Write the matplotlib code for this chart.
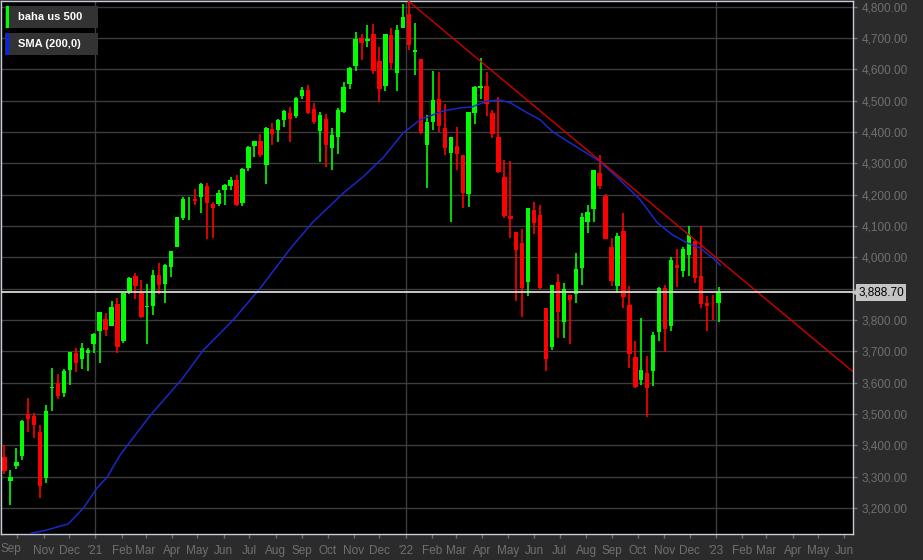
import matplotlib
matplotlib.use("Agg")
import matplotlib.pyplot as plt
import matplotlib.dates as mdates
import matplotlib.ticker as mticker
import pandas as pd
from matplotlib.patches import Rectangle

plt.rcParams['font.family'] = ['Liberation Sans', 'DejaVu Sans']

# weekly candles (week starting monday)
week_start = pd.date_range('2020-09-14', '2023-01-02', freq='7D')
opens = [3364, 3285, 3335, 3367, 3500, 3493, 3441, 3296, 3583, 3600, 3566, 3641, 3694, 3675, 3694, 3723,
         3764, 3803, 3781, 3851, 3732, 3892, 3939, 3886, 3842, 3844, 3942, 3916, 3969, 4034, 4124, 4179, 4185,
         4192, 4228, 4170, 4170, 4216, 4229, 4248, 4173, 4284, 4356, 4372, 4296, 4410, 4407, 4437, 4461, 4450,
         4514, 4535, 4474, 4402, 4442, 4348, 4385, 4463, 4553, 4610, 4701, 4689, 4712, 4628, 4548, 4710, 4587, 4733,
         4778, 4655, 4632, 4357, 4432, 4505, 4413, 4332, 4354, 4327, 4202, 4462, 4541, 4547, 4462, 4385, 4255,
         4131, 4081, 4046, 3920, 4151, 4134, 3838, 3715, 3920, 3792, 3880, 3883, 3965, 4113, 4155, 4269, 4195,
         4034, 3910, 4083, 3849, 3683, 3610, 3630, 3638, 3762, 3901, 3780, 3977, 3956, 4006, 4053, 3939, 3853, 3843,
         3853]
highs = [3402, 3320, 3393, 3482, 3550, 3502, 3466, 3529, 3646, 3628, 3645, 3699, 3712, 3726, 3711, 3760,
         3826, 3823, 3861, 3870, 3887, 3937, 3950, 3928, 3914, 3960, 3983, 3978, 4020, 4129, 4192, 4191, 4219,
         4238, 4237, 4175, 4214, 4234, 4255, 4262, 4286, 4355, 4372, 4394, 4415, 4430, 4440, 4470, 4480, 4513,
         4545, 4549, 4492, 4465, 4457, 4412, 4475, 4559, 4608, 4718, 4714, 4743, 4744, 4672, 4713, 4731, 4740, 4808,
         4818, 4749, 4632, 4453, 4595, 4590, 4490, 4385, 4416, 4327, 4465, 4546, 4637, 4593, 4471, 4513, 4309,
         4307, 4081, 4090, 4158, 4177, 4168, 3838, 3913, 3946, 3919, 3880, 4013, 4140, 4167, 4280, 4325, 4203,
         4062, 4077, 4140, 3907, 3733, 3807, 3685, 3762, 3905, 3911, 4001, 4028, 4034, 4100, 4053, 4101, 3876, 3879,
         3906]
lows = [3310, 3209, 3324, 3354, 3441, 3424, 3233, 3279, 3511, 3547, 3554, 3594, 3633, 3645, 3636, 3695,
        3663, 3750, 3780, 3694, 3725, 3884, 3866, 3805, 3723, 3817, 3882, 3853, 3937, 4034, 4119, 4118, 4167,
        4141, 4057, 4062, 4165, 4167, 4215, 4165, 4165, 4277, 4321, 4320, 4233, 4360, 4368, 4417, 4367, 4445,
        4506, 4456, 4427, 4305, 4288, 4278, 4329, 4460, 4537, 4596, 4630, 4672, 4585, 4495, 4532, 4600, 4531, 4733,
        4662, 4582, 4395, 4222, 4405, 4401, 4327, 4114, 4279, 4157, 4161, 4424, 4506, 4450, 4381, 4269, 4124,
        4063, 3859, 3811, 3875, 4074, 3900, 3637, 3705, 3741, 3742, 3722, 3853, 3911, 4079, 4112, 4218, 4057,
        3907, 3886, 3837, 3647, 3584, 3594, 3491, 3590, 3733, 3698, 3764, 3906, 3938, 3940, 3918, 3838, 3765, 3800,
        3794]
closes = [3319, 3298, 3348, 3477, 3483, 3465, 3270, 3509, 3585, 3558, 3638, 3699, 3663, 3709, 3703, 3756,
          3825, 3768, 3841, 3714, 3887, 3934, 3907, 3811, 3842, 3943, 3913, 3975, 4020, 4129, 4185, 4180, 4181,
          4233, 4174, 4156, 4204, 4230, 4247, 4166, 4281, 4352, 4370, 4327, 4412, 4395, 4437, 4468, 4442, 4509,
          4535, 4459, 4433, 4455, 4357, 4391, 4471, 4545, 4605, 4697, 4683, 4698, 4595, 4538, 4712, 4621, 4726, 4766,
          4677, 4663, 4398, 4432, 4501, 4419, 4349, 4385, 4329, 4204, 4463, 4543, 4546, 4488, 4393, 4272, 4132,
          4123, 4024, 3901, 4158, 4109, 3901, 3675, 3912, 3825, 3899, 3863, 3962, 4130, 4145, 4280, 4228, 4057,
          3924, 4067, 3873, 3693, 3586, 3640, 3583, 3752, 3901, 3771, 3993, 3965, 4026, 4072, 3934, 3852, 3845, 3840,
          3889]

# SMA (200,0)
sma_dates = ['2020-10-18', '2020-11-01', '2020-11-30', '2020-12-18', '2021-01-03', '2021-01-15', '2021-01-30',
             '2021-03-07', '2021-04-13', '2021-05-08', '2021-06-12', '2021-07-14', '2021-08-18', '2021-09-14',
             '2021-10-20', '2021-11-12', '2021-12-06', '2021-12-29', '2022-01-18', '2022-02-14', '2022-03-06',
             '2022-03-20', '2022-04-07', '2022-04-22', '2022-05-04', '2022-05-24', '2022-06-08', '2022-06-23',
             '2022-07-17', '2022-08-09', '2022-08-18', '2022-09-10', '2022-10-04', '2022-10-24', '2022-11-11',
             '2022-11-28', '2022-12-13', '2022-12-28', '2023-01-06']
sma_values = [3120, 3127, 3149, 3200, 3264, 3299, 3369, 3497, 3612, 3704, 3800, 3902, 4027, 4113, 4206, 4257,
              4320, 4397, 4439, 4467, 4477, 4480, 4499, 4502, 4493, 4461, 4439, 4400, 4359, 4320, 4304, 4247,
              4183, 4110, 4071, 4046, 4030, 3998, 3975]

# trendline from the jan high to the right edge
trend_dates = ['2022-01-04', '2023-06-11']
trend_values = [4818, 3635]

last_price = 3888.70

month_ticks = pd.date_range('2020-10-01', '2023-06-01', freq='MS')

bg = '#2b2b2b'
txt = '#707070'
grid = '#3c3c3c'
edge = '#c8ccd8'

fig = plt.figure(figsize=(9.23, 5.6), dpi=100, facecolor=bg)
ax = fig.add_axes([1 / 923, 26 / 560, 852 / 923, 533 / 560])
ax.set_facecolor('black')

x0 = mdates.date2num(pd.Timestamp('2020-09-12'))
x1 = mdates.date2num(pd.Timestamp('2023-06-11'))
ax.set_xlim(x0, x1)
ax.set_ylim(3117, 4818)

# grid
for p in range(3200, 4801, 100):
    ax.axhline(p, color=grid, lw=1, zorder=0)
for d in ['2021-01-01', '2022-01-01', '2023-01-01']:
    ax.axvline(mdates.date2num(pd.Timestamp(d)), color=grid, lw=1, zorder=0)

# candles
xs = mdates.date2num(week_start + pd.Timedelta(days=2))
for x, o, h, l, c in zip(xs, opens, highs, lows, closes):
    col = '#00ff00' if c >= o else '#ff0000'
    ax.vlines(x, l, h, color=col, lw=1.2, zorder=2)
    ax.bar(x, max(abs(c - o), 2), bottom=min(o, c), width=5.2, color=col, lw=0, zorder=2)

# sma
ax.plot(mdates.date2num(pd.to_datetime(sma_dates)), sma_values, color='#1a28c8', lw=1.1, zorder=3)

# trendline
tx = mdates.date2num(pd.to_datetime(trend_dates))
ax.plot(tx, trend_values, color='#d00000', lw=1, zorder=4)

# last price line + label
ax.axhline(last_price, color='#d8d8d8', lw=1.3, zorder=5)
ax.text(1.006, last_price, '{:,.2f}'.format(last_price), transform=ax.get_yaxis_transform(),
        ha='left', va='center', fontsize=8.5, color='black', zorder=10, clip_on=False,
        bbox=dict(boxstyle='square,pad=0.22', facecolor='#c4c4c4', edgecolor='none'))
ax.plot([1.002], [last_price], marker='<', ms=4, color='#c4c4c4', transform=ax.get_yaxis_transform(),
        clip_on=False, zorder=10)

# axes styling
for s in ax.spines.values():
    s.set_color(edge)
    s.set_linewidth(1)
ax.yaxis.tick_right()
ax.set_yticks(range(3200, 4801, 100))
# the 3,900 label sits under the last price box
ax.yaxis.set_major_formatter(mticker.FuncFormatter(lambda v, p: '' if v == 3900 else '{:,.2f}'.format(v)))
ax.set_xticks(mdates.date2num(month_ticks))
ax.set_xticklabels(['' if d.month == 10 and d.year == 2020 else ("'" + d.strftime('%y') if d.month == 1 else d.strftime('%b'))
                    for d in month_ticks])
ax.tick_params(axis='both', colors=txt, labelsize=8.5, length=3, width=1)
ax.tick_params(axis='y', pad=3)
ax.tick_params(axis='x', pad=5)
ax.text(10 / 852, -15 / 533, 'Sep', transform=ax.transAxes, ha='center', va='center', fontsize=8.5, color=txt)

# legend boxes
for i, (label, col) in enumerate([('baha us 500', '#00ff00'), ('SMA (200,0)', '#0022ff')]):
    top = 6 + i * 27
    fig.patches.append(Rectangle((5 / 923, 1 - (top + 22) / 560), 93 / 923, 22 / 560, transform=fig.transFigure,
                                 facecolor='#333333', edgecolor='none', zorder=20))
    fig.patches.append(Rectangle((6 / 923, 1 - (top + 22) / 560), 3 / 923, 22 / 560, transform=fig.transFigure,
                                 facecolor=col, edgecolor='none', zorder=21))
    fig.text(18 / 923, 1 - (top + 11) / 560, label, color='white', fontsize=8, fontweight='bold',
             ha='left', va='center', zorder=22)

fig.savefig('out.png', dpi=100, facecolor=bg)
